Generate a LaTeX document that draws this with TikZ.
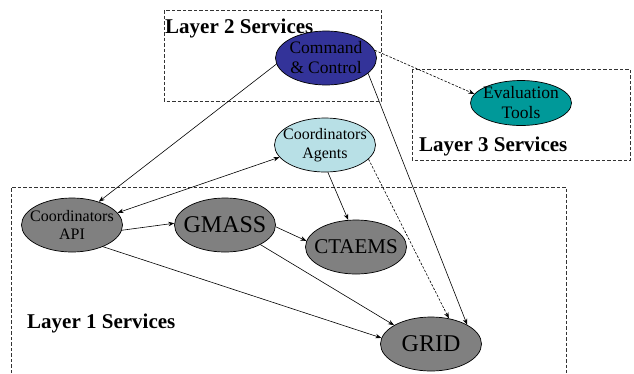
\documentclass[tikz,border=0pt]{standalone}
\usepackage{fontspec}
\setmainfont{Liberation Serif}
\usetikzlibrary{shapes.geometric,arrows.meta}
\definecolor{ccblue}{HTML}{333399}
\definecolor{evalteal}{HTML}{009999}
\definecolor{agentcyan}{HTML}{B8E0E6}
\definecolor{svcgray}{HTML}{808080}
\tikzset{
  svc/.style={ellipse, draw=black, line width=0.7pt, inner sep=0pt,
    minimum width=101pt, minimum height=54pt},
  smalltxt/.style={font=\fontsize{16}{18.5}\selectfont, align=center},
  midtxt/.style={font=\fontsize{17.5}{20}\selectfont, align=center},
  bigtxt/.style={font=\fontsize{24}{26}\selectfont},
  layerbox/.style={draw=black!80, line width=0.8pt, dash pattern=on 3.5pt off 2pt},
  layerlabel/.style={anchor=base west, inner sep=0pt, font=\fontsize{21}{23}\selectfont\bfseries},
  link/.style={draw=black, line width=0.6pt, -{Stealth[length=6pt,width=4.5pt]}},
  dlink/.style={link, dash pattern=on 2.5pt off 1.5pt},
}
\begin{document}
\begin{tikzpicture}[x=1pt,y=-1pt]
\useasboundingbox (0,0) rectangle (634,373);
\fill[white] (0,0) rectangle (634,373);

% service layers
\draw[layerbox] (164,10) rectangle (381,101);
\draw[layerbox] (412,69) rectangle (630,160);
\draw[layerbox] (11,373) -- (11,187) -- (566,187) -- (566,373);

\node[layerlabel] (l2) at (165,33) {Layer 2 Services};
\node[layerlabel] (l3) at (419,151) {Layer 3 Services};
\node[layerlabel] (l1) at (27,328) {Layer 1 Services};

% services: fixed-size ellipses, text set on top as a centred label
\node[svc, fill=ccblue, label={[midtxt]center:Command\\\& Control}] (cc) at (326,58) {};
\node[svc, fill=evalteal, minimum height=45pt, label={[midtxt]center:Evaluation\\Tools}] (eval) at (521,103) {};
\node[svc, fill=agentcyan, label={[smalltxt]center:Coordinators\\Agents}] (agents) at (325,145) {};
\node[svc, fill=svcgray, label={[smalltxt]center:Coordinators\\API}] (api) at (72,225) {};
\node[svc, fill=svcgray, label={[bigtxt]center:GMASS}] (gmass) at (225,225) {};
\node[svc, fill=svcgray, label={[font=\fontsize{21}{23}\selectfont]center:CTAEMS}] (ctaems) at (356,247) {};
\node[svc, fill=svcgray, label={[bigtxt]center:GRID}] (grid) at (431,344) {};

% connectors
\draw[link] (cc.187) -- (api.41);
\draw[link, {Stealth[length=6pt,width=4.5pt]}-{Stealth[length=6pt,width=4.5pt]}] (api.15) -- (agents.195);
\draw[link] (api.-6) -- (gmass.178);
\draw[link] (gmass.-2) -- (ctaems.173);
\draw[link] (gmass.-29) -- (grid.153);
\draw[link] (api.-35) -- (grid.173);
\draw[link] (agents.-84) -- (ctaems.106);
\draw[dlink] (agents.-18) -- (grid.55);
\draw[link] (cc.-20) -- (grid.28);
\draw[dlink] (cc.9) -- (eval.169);
\end{tikzpicture}
\end{document}
